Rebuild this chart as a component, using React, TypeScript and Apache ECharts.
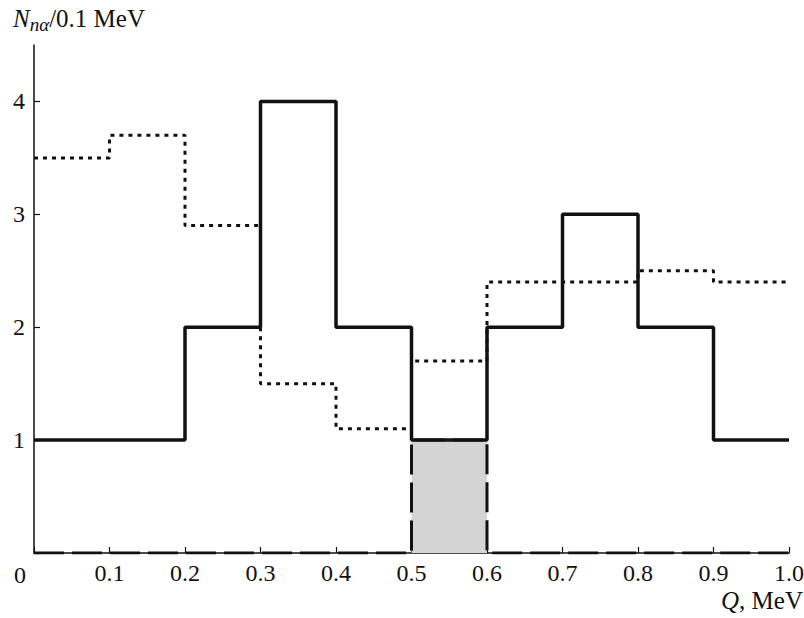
import React, { useEffect, useRef } from "react";
import * as echarts from "echarts";

const binEdges = [0, 0.1, 0.2, 0.3, 0.4, 0.5, 0.6, 0.7, 0.8, 0.9, 1.0];
const solidValues = [1, 1, 2, 4, 2, 1, 2, 3, 2, 1];
const dottedValues = [3.5, 3.7, 2.9, 1.5, 1.1, 1.7, 2.4, 2.4, 2.5, 2.4];
const dashedValues = [0, 0, 0, 0, 0, 1, 0, 0, 0, 0];
const shadedBin = [0.5, 0.6];
const shadedHeight = 1;
const yTicks = [1, 2, 3, 4];

const FONT = "Liberation Serif";
const FS = 24;
const INK = "#111";

function toSteps(values: number[]) {
  const pts: [number, number][] = values.map((v, i) => [binEdges[i], v]);
  pts.push([binEdges[binEdges.length - 1], values[values.length - 1]]);
  return pts;
}

export default function App() {
  const ref = useRef<HTMLDivElement>(null);
  useEffect(() => {
    if (!ref.current) return;
    const chart = echarts.init(ref.current, null, { renderer: "svg" });
    chart.setOption({
      animation: false,
      backgroundColor: "#fff",
      grid: { left: 34, right: 15, top: 45, bottom: 65, containLabel: false, outerBoundsMode: "none" },
      xAxis: {
        type: "value",
        min: 0,
        max: 1,
        interval: 0.1,
        axisLine: { show: true, lineStyle: { color: INK, width: 1.5 } },
        axisTick: { show: true, inside: true, length: 6, lineStyle: { color: INK, width: 1.2 } },
        splitLine: { show: false },
        axisLabel: {
          fontFamily: FONT,
          fontSize: FS,
          lineHeight: 22,
          color: INK,
          margin: 9,
          hideOverlap: false,
          formatter: (v: number) => (v === 0 ? "" : v.toFixed(1)),
        },
      },
      yAxis: {
        type: "value",
        min: 0,
        max: 4.5,
        interval: 1,
        axisLine: { show: true, lineStyle: { color: INK, width: 1.5 } },
        axisTick: { show: true, inside: true, length: 6, lineStyle: { color: INK, width: 1.2 } },
        splitLine: { show: false },
        axisLabel: {
          fontFamily: FONT,
          fontSize: FS,
          color: INK,
          margin: 9,
          showMaxLabel: false,
          formatter: (v: number) => (yTicks.includes(v) ? String(v) : ""),
        },
      },
      graphic: [
        {
          type: "text",
          left: 13,
          top: 6,
          style: {
            text: "{i|N}{s|nα}{r|/0.1 MeV}",
            rich: {
              i: { fontFamily: FONT, fontSize: 25, fontStyle: "italic", fill: INK },
              s: { fontFamily: FONT, fontSize: 19, fontStyle: "italic", fill: INK, padding: [11, 0, 0, 0] },
              r: { fontFamily: FONT, fontSize: 25, fill: INK },
            },
          },
        },
        {
          type: "text",
          left: 14,
          top: 563,
          style: { text: "0", fontFamily: FONT, fontSize: FS, lineHeight: 22, fill: INK },
        },
        {
          type: "text",
          right: 1,
          top: 588,
          style: {
            text: "{i|Q}{r|, MeV}",
            rich: {
              i: { fontFamily: FONT, fontSize: 25, lineHeight: 22, fontStyle: "italic", fill: INK },
              r: { fontFamily: FONT, fontSize: 25, lineHeight: 22, fill: INK },
            },
          },
        },
      ],
      series: [
        {
          type: "line",
          step: "end",
          data: toSteps(dashedValues),
          symbol: "none",
          z: 3,
          lineStyle: { color: INK, width: 3, type: [30, 8] },
          markArea: {
            silent: true,
            itemStyle: { color: "#d4d4d4" },
            data: [[{ coord: [shadedBin[0], 0] }, { coord: [shadedBin[1], shadedHeight] }]],
          },
        },
        {
          type: "line",
          step: "end",
          data: toSteps(dottedValues),
          symbol: "none",
          z: 4,
          lineStyle: { color: INK, width: 3, type: [4, 5] },
        },
        {
          type: "line",
          step: "end",
          data: toSteps(solidValues),
          symbol: "none",
          z: 5,
          lineStyle: { color: INK, width: 3.5 },
        },
      ],
    });
    return () => chart.dispose();
  }, []);
  return <div ref={ref} style={{ width: 804, height: 618, position: "absolute", left: 0, top: 0 }} />;
}
